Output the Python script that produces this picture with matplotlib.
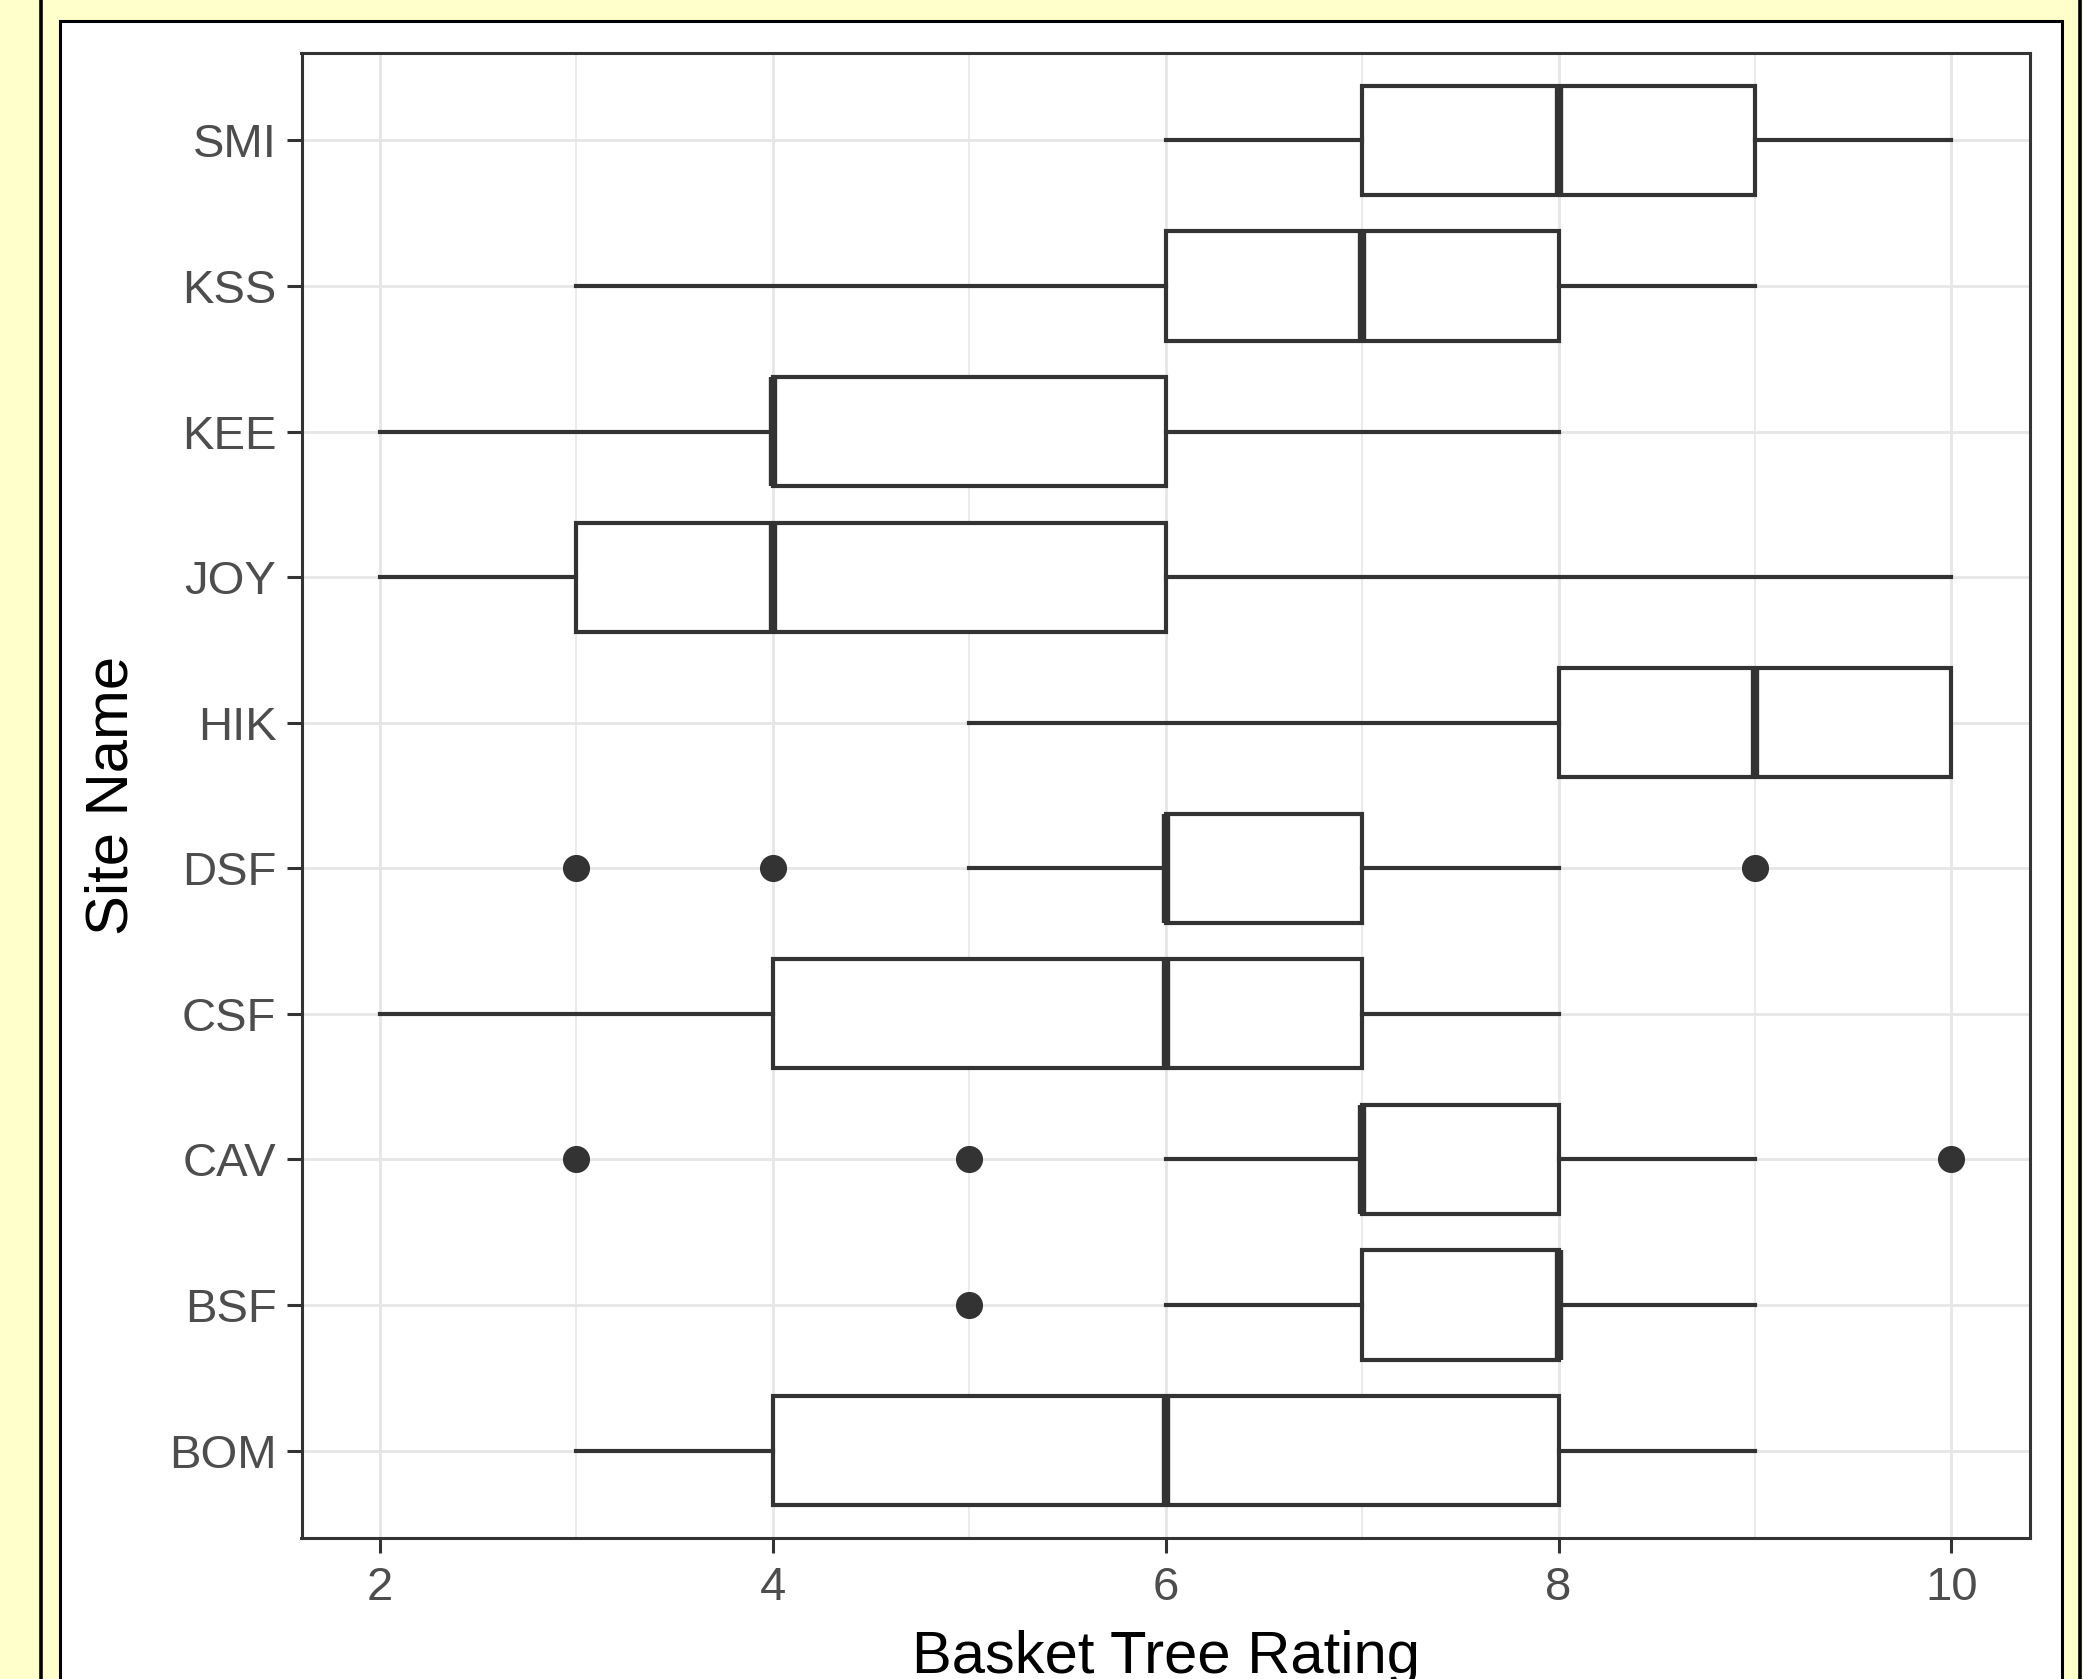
import matplotlib
matplotlib.use("Agg")
import matplotlib.pyplot as plt
from matplotlib.patches import Rectangle
from matplotlib.lines import Line2D

plt.rcParams['font.family'] = ['Liberation Sans', 'DejaVu Sans']

# sites, bottom to top
sites = ['BOM', 'BSF', 'CAV', 'CSF', 'DSF', 'HIK', 'JOY', 'KEE', 'KSS', 'SMI']
whis_lo = [3, 6, 6, 2, 5, 5, 2, 2, 3, 6]
q1 = [4, 7, 7, 4, 6, 8, 3, 4, 6, 7]
median = [6, 8, 7, 6, 6, 9, 4, 4, 7, 8]
q3 = [8, 8, 8, 7, 7, 10, 6, 6, 8, 9]
whis_hi = [9, 9, 9, 8, 8, 10, 10, 8, 9, 10]
outliers = [[], [5], [3, 5, 10], [], [3, 4, 9], [], [], [], [], []]

xticks = [2, 4, 6, 8, 10]

W, H = 2083, 1679
fig = plt.figure(figsize=(W / 100, H / 100), dpi=100)
fig.patch.set_facecolor('#FFFFCC')

# frame around the picture (behind the axes)
fig.add_artist(Line2D([41 / W, 41 / W], [0, 1], color='black', lw=2.6, zorder=-10))
fig.add_artist(Line2D([2080 / W, 2080 / W], [0, 1], color='black', lw=2.6, zorder=-10))
fig.add_artist(Rectangle((60 / W, -0.05), (2062 - 60) / W, 1 - 21 / H + 0.05,
                         facecolor='white', edgecolor='black', lw=2.2, zorder=-10))

ax = fig.add_axes([301.5 / W, 1 - 1538 / H, (2030 - 301.5) / W, (1538 - 53) / H])

stats = []
for i, s in enumerate(sites):
    stats.append(dict(label=s, whislo=whis_lo[i], q1=q1[i], med=median[i],
                      q3=q3[i], whishi=whis_hi[i], fliers=outliers[i]))

dark = '#333333'
ax.bxp(stats, positions=range(1, len(sites) + 1), vert=False, widths=0.75,
       patch_artist=True, showcaps=False,
       boxprops=dict(facecolor='white', edgecolor=dark, linewidth=3.0),
       whiskerprops=dict(color=dark, linewidth=3.0),
       medianprops=dict(color=dark, linewidth=6.0, solid_capstyle='butt'),
       flierprops=dict(marker='o', markerfacecolor=dark, markeredgecolor=dark,
                       markersize=18.5))

ax.set_xlim(1.6, 10.4)
ax.set_ylim(0.4, 10.6)
ax.set_xticks(xticks)
ax.set_xticks([3, 5, 7, 9], minor=True)
ax.set_yticks(range(1, len(sites) + 1))
ax.set_yticklabels(sites)

ax.set_axisbelow(True)
ax.grid(which='major', color='#E6E6E6', linewidth=2.0)
ax.grid(which='minor', axis='x', color='#E6E6E6', linewidth=1.1)

for sp in ax.spines.values():
    sp.set_color(dark)
    sp.set_linewidth(2.2)

ax.tick_params(axis='both', which='major', length=11, width=2.2, color=dark,
               labelsize=34, labelcolor='#4D4D4D', pad=7)
ax.tick_params(axis='x', which='major', pad=9)
ax.tick_params(axis='x', which='minor', length=0)

fig.text((301.5 + 2030) / 2 / W, 1 - 1673 / H, 'Basket Tree Rating',
         ha='center', va='baseline', fontsize=43, color='black')
fig.text(112 / W, 1 - 795 / H, 'Site Name', rotation=90,
         ha='center', va='center', fontsize=43, color='black')

fig.savefig('out.png', dpi=100, facecolor=fig.get_facecolor())
